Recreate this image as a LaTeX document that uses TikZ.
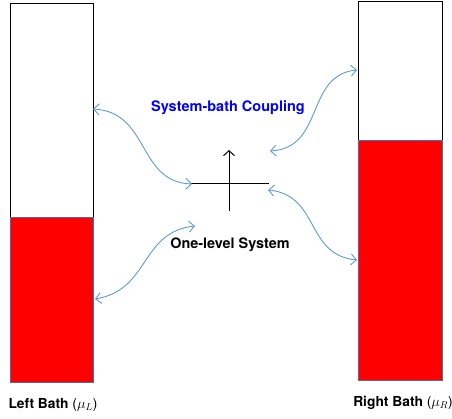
\documentclass[tikz,border=0pt]{standalone}
\usepackage{fontspec}
\setmainfont{TeX Gyre Heros}
\usetikzlibrary{arrows.meta}
\definecolor{arrowblue}{RGB}{91,155,213}
\definecolor{edgeblue}{RGB}{70,110,170}
\tikzset{
  bathtop/.style={draw=black, fill=white, line width=0.9pt},
  bathbot/.style={draw=edgeblue, fill=red, line width=0.9pt},
  couple/.style={draw=arrowblue, line width=0.9pt, {Straight Barb[length=5.5pt,width=11pt]}-{Straight Barb[length=5.5pt,width=11pt]}},
  lbl/.style={font=\bfseries, inner sep=0pt}
}
\begin{document}
\begin{tikzpicture}[x=1pt,y=-1pt]
\useasboundingbox (0,0) rectangle (452,419);
% left bath
\draw[bathtop] (10,3) rectangle (93,217);
\draw[bathbot] (10,217) rectangle (93,382);
% right bath
\draw[bathtop] (358,1) rectangle (442,140);
\draw[bathbot] (358,140) rectangle (442,380);
\node[lbl, font=\bfseries\fontsize{13.8}{16}\selectfont] (lb) at (53,405) {Left Bath \normalfont($\mu_L$)};
\node[lbl, font=\bfseries\fontsize{13.8}{16}\selectfont] (rb) at (403,403) {Right Bath \normalfont($\mu_R$)};
% system
\coordinate (hl) at (190,184);
\coordinate (hr) at (269,184);
\coordinate (vb) at (229,211);
\coordinate (vt) at (229,150);
\draw[line width=1pt] (hl) -- (hr);
\draw[line width=1pt, -{Straight Barb[length=5pt,width=11pt]}] (vb) -- (vt);
\node[lbl, text=blue, font=\bfseries\fontsize{14.5}{17}\selectfont] (sbc) at (228,108) {System-bath Coupling};
\node[lbl, font=\bfseries\fontsize{14.4}{17}\selectfont] (ols) at (230,245) {One-level System};
% coupling arrows
\coordinate (a1s) at (93,109);
\coordinate (a1e) at (192,184);
\coordinate (a2s) at (95,299);
\coordinate (a2e) at (195,226);
\coordinate (a3s) at (357,70);
\coordinate (a3e) at (270,151);
\coordinate (a4s) at (268,190);
\coordinate (a4e) at (357,260);
\draw[couple] (a1s) .. controls (150,112) and (137,182) .. (a1e);
\draw[couple] (a2s) .. controls (150,290) and (140,232) .. (a2e);
\draw[couple] (a3s) .. controls (305,75) and (325,148) .. (a3e);
\draw[couple] (a4s) .. controls (320,195) and (305,255) .. (a4e);
\end{tikzpicture}
\end{document}
